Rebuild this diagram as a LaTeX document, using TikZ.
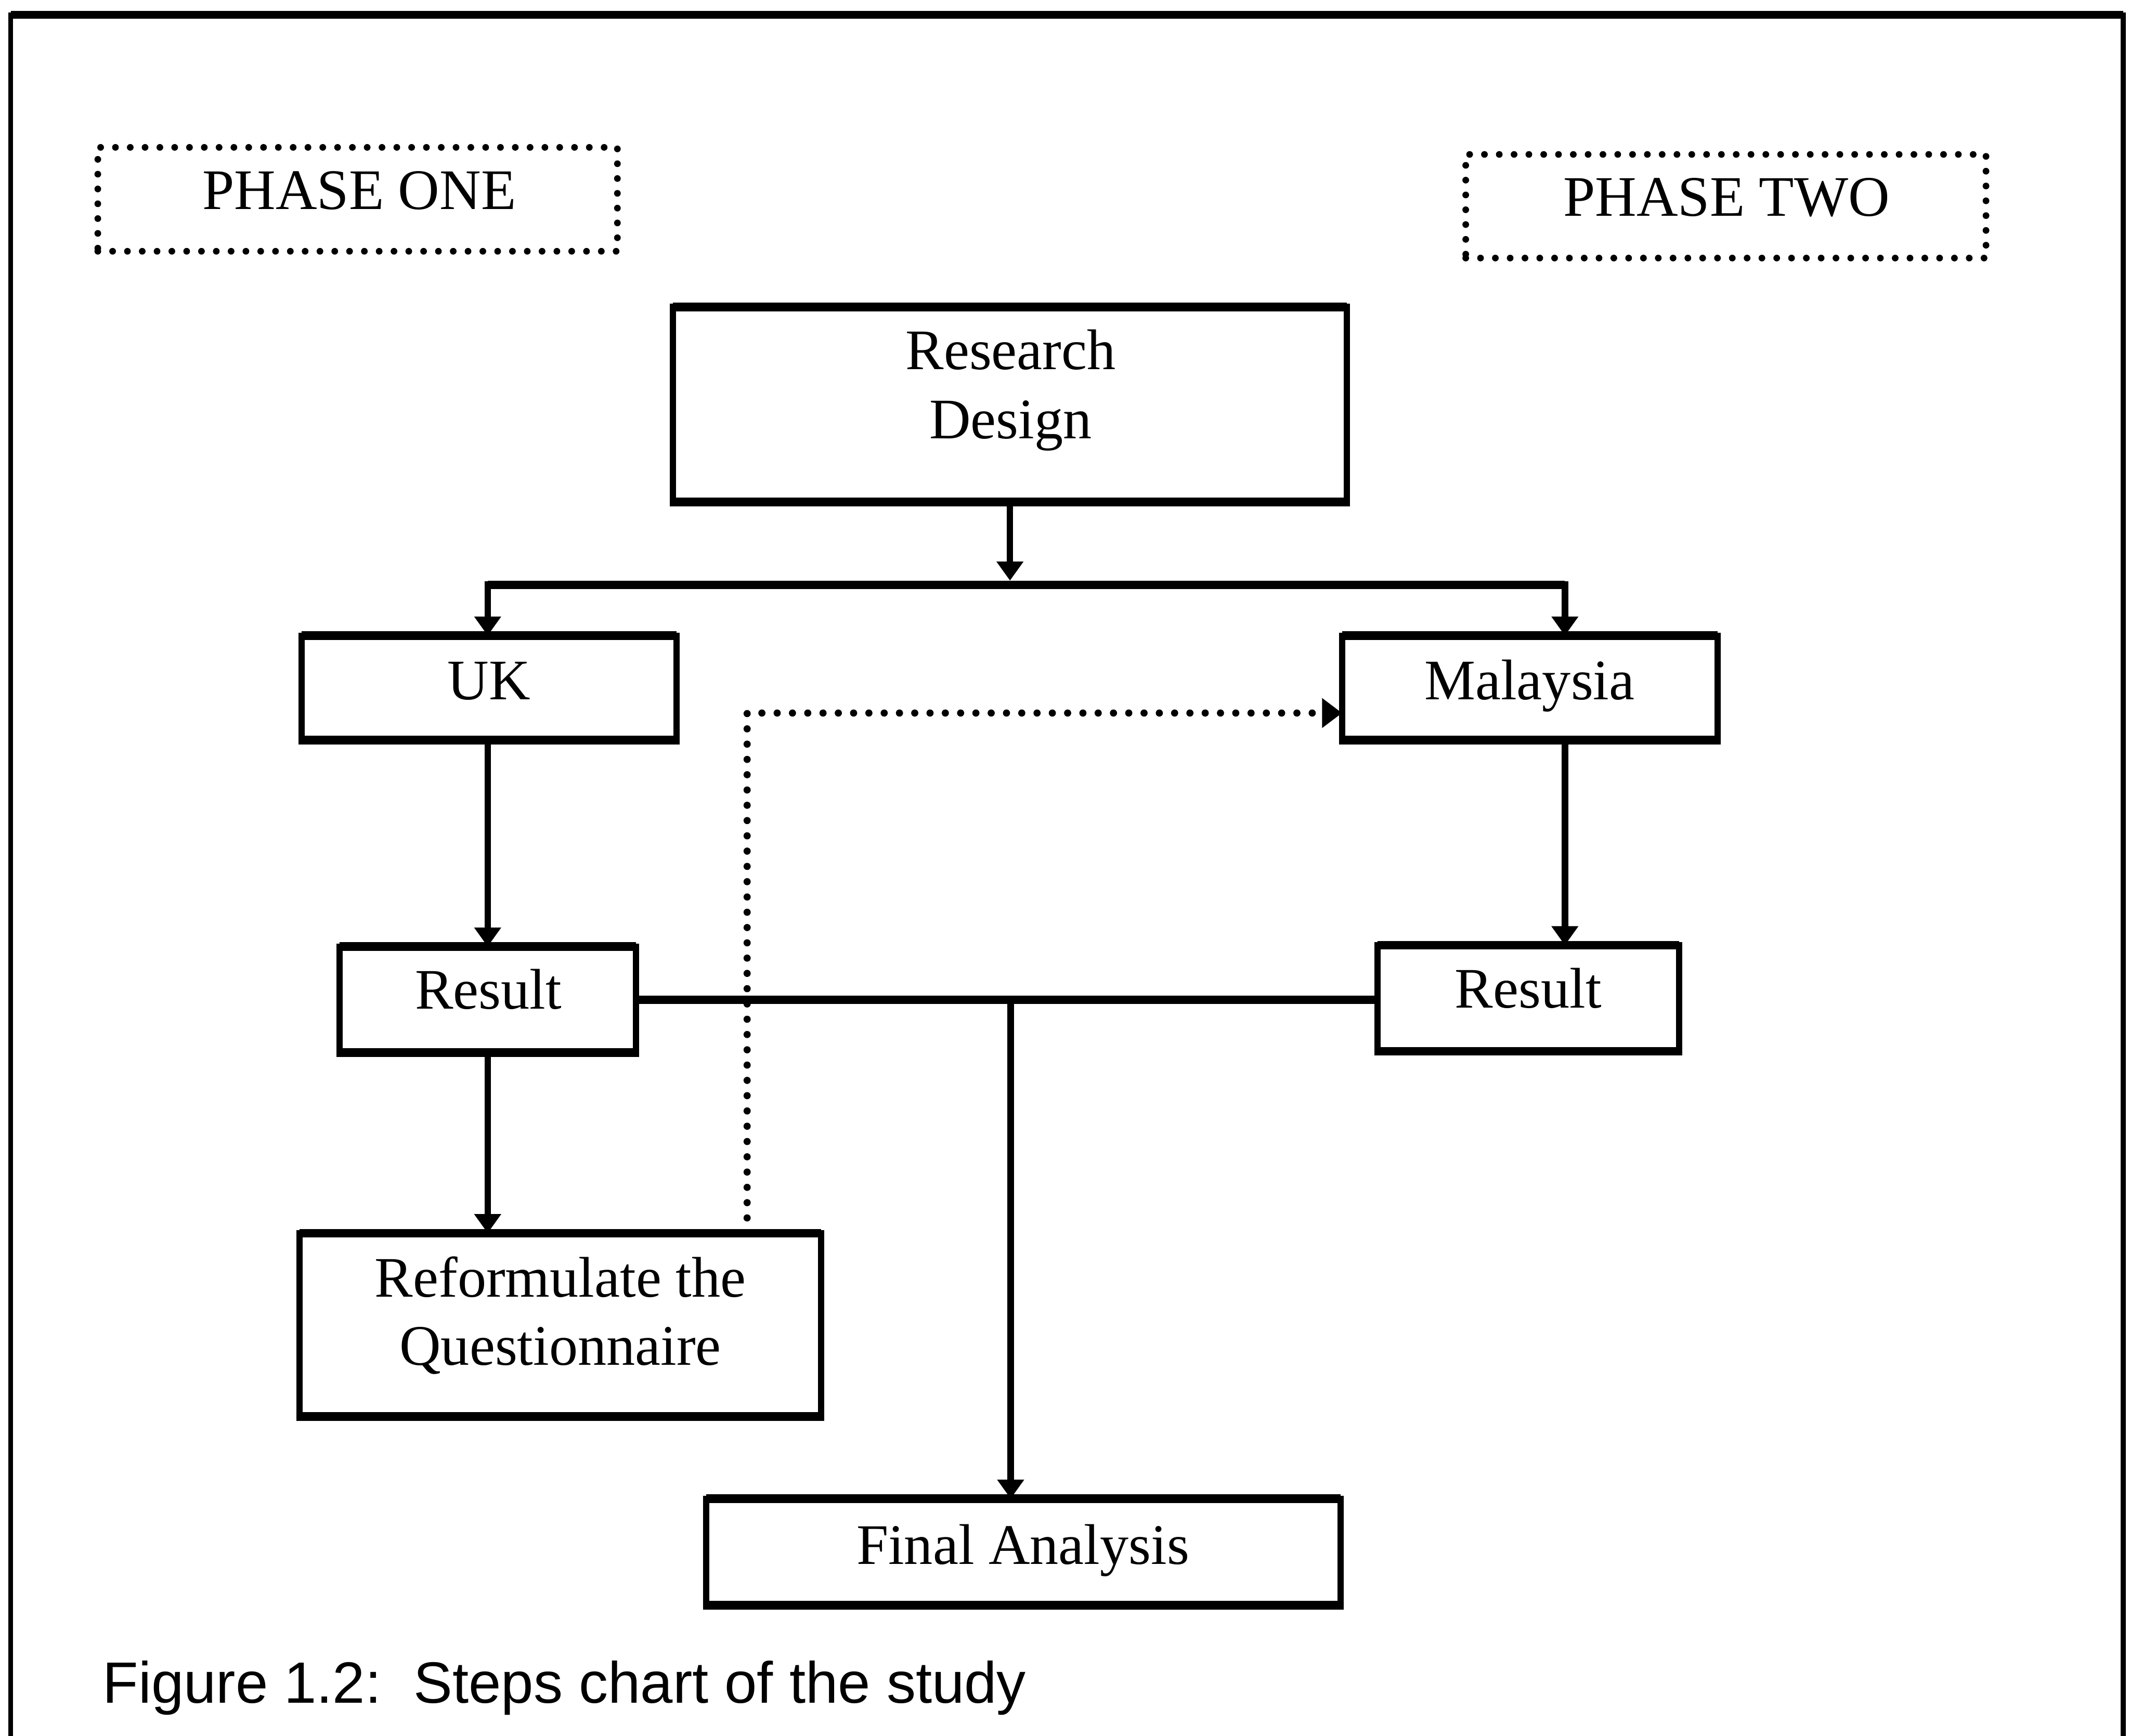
\documentclass[tikz,border=0pt]{standalone}
\usepackage{fontspec}
\setmainfont{Liberation Serif}
\newfontfamily\captionsans{Liberation Sans}
\usetikzlibrary{arrows.meta,fit,calc}

\tikzset{
  stepbox/.style={draw, line width=1.3pt, inner sep=0pt, outer sep=0pt},
  phasebox/.style={draw, line width=1.4pt, line cap=round, dash pattern=on 0pt off 3.1pt,
                   inner sep=0pt, outer sep=0pt},
  lbl/.style={anchor=base, inner sep=0pt, font=\fontsize{12}{14.2}\selectfont},
  edge/.style={line width=1.8pt, shorten <=-0.65pt, shorten >=-0.65pt},
  link/.style={line width=1.35pt, -{Triangle[width=5.4pt,length=4pt]}},
  bus/.style={line width=1.75pt},
  dotlink/.style={line width=1.5pt, line cap=round, dash pattern=on 0pt off 3.2pt,
                  -{Triangle[width=6pt,length=4.2pt]}},
}

\begin{document}
\begin{tikzpicture}[x=0.01cm, y=-0.01cm]
  \useasboundingbox (0,0) rectangle (1568,1278);
  \clip (0,0) rectangle (1568,1278);

  % outer frame, open at the bottom
  \draw[line width=1pt] (8,1300) -- (8,11) -- (1563,11) -- (1563,1300);
  \draw[line width=1.6pt] (8,11) -- (1563,11);

  % phase headings
  \node[phasebox, fit={(72,108.5) (454.5,185)}] (p1) {};
  \node[lbl] (p1t) at (264.5,154) {PHASE ONE};
  \node[phasebox, fit={(1079,113.7) (1462,190)}] (p2) {};
  \node[lbl] (p2t) at (1271,159) {PHASE TWO};

  % step boxes
  \node[stepbox, fit={(495.5,226) (991.5,369.5)}] (rd) {};
  \node[lbl] (rdt1) at (744,272) {Research};
  \node[lbl] (rdt2) at (744,323) {Design};

  \node[stepbox, fit={(222,468) (498,545)}] (uk) {};
  \node[lbl] (ukt) at (360,515) {UK};

  \node[stepbox, fit={(988,468) (1264.5,545)}] (my) {};
  \node[lbl] (myt) at (1126,515) {Malaysia};

  \node[stepbox, fit={(250,697) (468,775)}] (resl) {};
  \node[lbl] (reslt) at (359.5,743) {Result};

  \node[stepbox, fit={(1014,696) (1236,774)}] (resr) {};
  \node[lbl] (resrt) at (1125,742) {Result};

  \node[stepbox, fit={(220.5,908) (604.5,1043)}] (ref) {};
  \node[lbl] (reft1) at (412.5,955) {Reformulate the};
  \node[lbl] (reft2) at (412.5,1005) {Questionnaire};

  \node[stepbox, fit={(520,1103.5) (987,1182)}] (fa) {};
  \node[lbl] (fat) at (753,1151.5) {Final Analysis};

  % heavier top and bottom edges of the boxes
  \foreach \b in {rd,uk,my,resl,resr,ref,fa}
    \draw[edge] (\b.north west) -- (\b.north east) (\b.south west) -- (\b.south east);

  % junction points
  \coordinate (split) at (743.5,430.5);
  \coordinate (ukdrop) at (359,430.5);
  \coordinate (mydrop) at (1152,430.5);
  \coordinate (join) at (744,736);
  \coordinate (dtop) at (550,525);

  % research design splits to both countries
  \draw[link, shorten >=0.85pt] (rd.south) -- (split);
  \draw[link, {Triangle[width=5.4pt,length=4pt]}-{Triangle[width=5.4pt,length=4pt]}]
    (ukdrop |- uk.north) -- (ukdrop) -- (mydrop) -- (mydrop |- my.north);
  \draw[bus] (ukdrop) -- (mydrop);

  % country to result
  \draw[link] (uk.south -| ukdrop) -- (resl.north -| ukdrop);
  \draw[link] (my.south -| mydrop) -- (resr.north -| mydrop);

  % UK result to reformulation
  \draw[link] (resl.south -| ukdrop) -- (ref.north -| ukdrop);

  % both results feed the final analysis
  \draw[bus] (resl.east) -- (resl.east -| resr.west);
  \draw[link] (join) -- (join |- fa.north);

  % reformulated questionnaire goes on to Malaysia
  \draw[dotlink] (ref.north -| dtop) -- (dtop) -- (dtop -| my.west);

  % caption
  \node[anchor=base west, inner sep=0pt, font=\captionsans\fontsize{12.2}{14}\selectfont]
    (cap) at (75,1254) {Figure 1.2:\ \ Steps chart of the study};
\end{tikzpicture}
\end{document}
